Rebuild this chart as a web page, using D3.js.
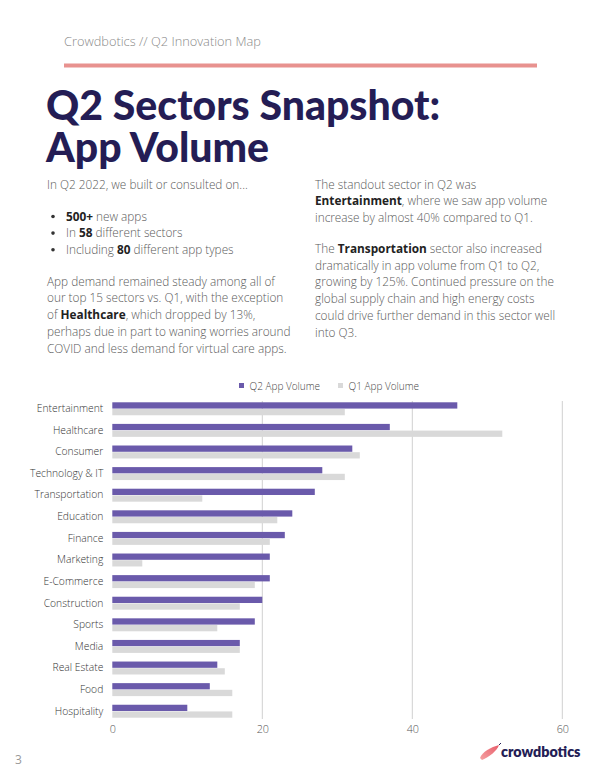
<!DOCTYPE html>
<html><head><meta charset="utf-8">
<script src="https://cdn.jsdelivr.net/npm/d3@7"></script>
<style>
html,body{margin:0;padding:0;background:#fff;}
svg{display:block;}
</style></head>
<body>
<svg id="page" width="600" height="776"></svg>
<script>
const categories = ["Entertainment","Healthcare","Consumer","Technology & IT","Transportation","Education","Finance","Marketing","E-Commerce","Construction","Sports","Media","Real Estate","Food","Hospitality"];
const q2Values = [46,37,32,28,27,24,23,21,21,20,19,17,14,13,10];
const q1Values = [31,52,33,31,12,22,21,4,19,17,14,17,15,16,16];
const seriesNames = ["Q2 App Volume","Q1 App Volume"];
const xTicks = [0,20,40,60];

const svg = d3.select("#page");
const body = "'Open Sans', sans-serif";

// header
svg.append("text").attr("x",64).attr("y",46).attr("font-family",body).attr("font-weight",300)
  .attr("font-size",12.8).attr("fill","#8a8a8a").text("Crowdbotics // Q2 Innovation Map");
svg.append("rect").attr("x",64).attr("y",63.5).attr("width",473).attr("height",4).attr("fill","#e8928f");

// title
const title = svg.append("text").attr("font-family","Lato, sans-serif").attr("font-weight",900)
  .attr("font-size",41).attr("fill","#241d55");
title.append("tspan").attr("x",46).attr("y",120).text("Q2 Sectors Snapshot:");
title.append("tspan").attr("x",46).attr("y",161.5).text("App Volume");

function richLine(x, y, parts){
  const t = svg.append("text").attr("x",x).attr("y",y).attr("font-family",body)
    .attr("font-size",11.8).attr("fill","#5a5a5a").attr("font-weight",300);
  parts.forEach(p=>{
    const s = t.append("tspan").text(p[0]);
    if(p[1]) s.attr("font-weight",700).attr("fill","#222");
  });
}
// left column
richLine(47,189,[["In Q2 2022, we built or consulted on..."]]);
[[["500+",1],[" new apps"]],[["In "],["58",1],[" different sectors"]],[["Including "],["80",1],[" different app types"]]]
 .forEach((parts,i)=>{
   svg.append("circle").attr("cx",53).attr("cy",216.5+i*16.6).attr("r",1.8).attr("fill","#333");
   richLine(66,220.5+i*16.6,parts);
 });
const leftPara = [
  [["App demand remained steady among all of"]],
  [["our top 15 sectors vs. Q1, with the exception"]],
  [["of "],["Healthcare",1],[", which dropped by 13%,"]],
  [["perhaps due in part to waning worries around"]],
  [["COVID and less demand for virtual care apps."]]
];
leftPara.forEach((p,i)=>richLine(47,285.5+i*16.9,p));
// right column
const rightPara = [
  [["The standout sector in Q2 was"]],
  [["Entertainment",1],[", where we saw app volume"]],
  [["increase by almost 40% compared to Q1."]],
  null,
  [["The "],["Transportation",1],[" sector also increased"]],
  [["dramatically in app volume from Q1 to Q2,"]],
  [["growing by 125%. Continued pressure on the"]],
  [["global supply chain and high energy costs"]],
  [["could drive further demand in this sector well"]],
  [["into Q3."]]
];
rightPara.forEach((p,i)=>{ if(p) richLine(315,188.5+i*16.8 + (i>3?-3:0),p); });

// chart
const x = d3.scaleLinear().domain([0,60]).range([112.3,562.3]);
const y = d3.scaleBand().domain(categories).range([401,719]).paddingInner(0.4).paddingOuter(0.06);
const ySub = d3.scaleBand().domain(seriesNames).range([0,y.bandwidth()]).paddingInner(0.06);
const colors = {"Q2 App Volume":"#6a5aab","Q1 App Volume":"#d9d9d9"};

const g = svg.append("g");
g.selectAll("line.grid").data(xTicks.filter(d=>d>0)).join("line")
  .attr("x1",d=>x(d)).attr("x2",d=>x(d)).attr("y1",401).attr("y2",719)
  .attr("stroke","#d0d0d0").attr("stroke-width",1);

const rows = categories.map((c,i)=>({c, vals:[{s:seriesNames[0],v:q2Values[i]},{s:seriesNames[1],v:q1Values[i]}]}));
const rg = g.selectAll("g.row").data(rows).join("g").attr("transform",d=>`translate(0,${y(d.c)})`);
rg.selectAll("rect").data(d=>d.vals).join("rect")
  .attr("x",x(0)).attr("y",d=>ySub(d.s)).attr("height",ySub.bandwidth())
  .attr("width",d=>x(d.v)-x(0)).attr("fill",d=>colors[d.s]);

const yAxis = g.append("g").attr("transform",`translate(${x(0)-9},0)`)
  .call(d3.axisLeft(y).tickSize(0).tickPadding(0));
yAxis.select(".domain").remove();
yAxis.selectAll("text").attr("font-family",body).attr("font-size",10.3).attr("fill","#333").attr("font-weight",300);

const xAxis = g.append("g").attr("transform",`translate(0,722)`)
  .call(d3.axisBottom(x).tickValues(xTicks).tickSize(0).tickPadding(3));
xAxis.select(".domain").remove();
xAxis.selectAll("text").attr("font-family",body).attr("font-size",10.8).attr("fill","#555").attr("font-weight",300);

// legend
const legendX = [239,338];
seriesNames.forEach((s,i)=>{
  svg.append("rect").attr("x",legendX[i]).attr("y",383).attr("width",5).attr("height",5).attr("fill",colors[s]);
  svg.append("text").attr("x",legendX[i]+10.5).attr("y",389.5).attr("font-family",body).attr("font-size",10)
    .attr("font-weight",300).attr("fill","#444").text(s);
});

// footer
svg.append("text").attr("x",15).attr("y",764).attr("font-family",body).attr("font-size",12)
  .attr("fill","#999").text("3");
const defs = svg.append("defs");
const grad = defs.append("linearGradient").attr("id","lg").attr("x1","0").attr("y1","1").attr("x2","1").attr("y2","0");
grad.append("stop").attr("offset","0").attr("stop-color","#f5a3a3");
grad.append("stop").attr("offset","1").attr("stop-color","#e85c6a");
svg.append("path").attr("d","M480,758 C482,752 491,747 499,745 C497,751 489,757 482,760 Z").attr("fill","url(#lg)");
svg.append("path").attr("d","M499,745 L501,743").attr("stroke","#241d55").attr("stroke-width",1);
svg.append("text").attr("x",501).attr("y",757).attr("font-family","Lato, sans-serif").attr("font-weight",800)
  .attr("font-size",14.3).attr("fill","#241d55").text("crowdbotics");
</script>
</body></html>
